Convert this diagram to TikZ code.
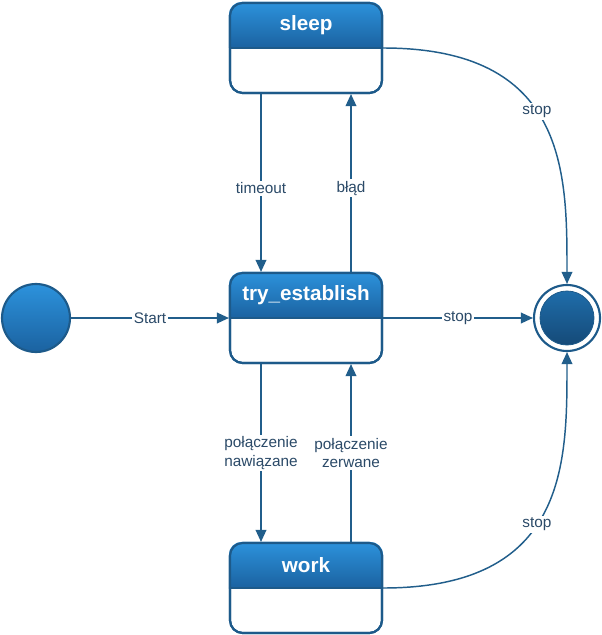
\documentclass[tikz,border=0pt]{standalone}
\usepackage{fontspec}
\setmainfont{Liberation Sans}
\usetikzlibrary{arrows.meta,calc}
\definecolor{hdrtop}{HTML}{2C92DC}
\definecolor{hdrbot}{HTML}{1B62A0}
\definecolor{bord}{HTML}{1D5A8A}
\definecolor{edgec}{HTML}{215E8B}
\definecolor{lbl}{HTML}{2B4A68}
\definecolor{endtop}{HTML}{1F6DAA}
\definecolor{endbot}{HTML}{154A78}
\tikzset{
 statebox/.style={rectangle, rounded corners=9.5pt, minimum width=114pt, minimum height=67.5pt, draw=bord, line width=1.6pt, fill=white, inner sep=0pt},
 titletext/.style={text=white, font=\bfseries\fontsize{15.5}{18}\selectfont},
 trans/.style={draw=edgec, line width=1.1pt, -{Triangle[length=9pt,width=8pt]}},
 lab/.style={fill=white, text=lbl, font=\fontsize{11.5}{14}\selectfont, inner sep=1.5pt, align=center},
}
\newcommand{\stateheader}[1]{%
 \begin{scope}
 \clip[rounded corners=9.5pt] (#1.north west) rectangle (#1.south east);
 \shade[top color=hdrtop, bottom color=hdrbot] (#1.north west) rectangle (#1.east);
 \end{scope}
 \draw[bord, line width=1.6pt, rounded corners=9.5pt] ([shift={(0.8pt,-0.8pt)}]#1.north west) rectangle ([shift={(-0.8pt,0.8pt)}]#1.south east);
 \draw[bord, line width=0.8pt] (#1.west) -- (#1.east);
}
\begin{document}
\begin{tikzpicture}[x=0.75pt,y=-0.75pt]
\useasboundingbox (0,0) rectangle (601,635);
% states
\node[statebox] (sleep) at (306,48) {};
\node[statebox] (try) at (306,318) {};
\node[statebox] (work) at (306,588) {};
\stateheader{sleep}
\stateheader{try}
\stateheader{work}
\node[titletext] (sleepT) at (306,25.5) {sleep};
\node[titletext] (tryT) at (306,295.5) {try\_establish};
\node[titletext] (workT) at (306,565.5) {work};
% start / end
\node[circle, minimum size=51pt, inner sep=0pt, draw=bord, line width=1.6pt, top color=hdrtop, bottom color=hdrbot] (start) at (36,318) {};
\node[circle, minimum size=49.5pt, inner sep=0pt, draw=bord, line width=1.6pt, fill=white] (end) at (567,318) {};
\node[circle, minimum size=40.5pt, inner sep=0pt, draw=bord, line width=0.6pt, top color=endtop, bottom color=endbot] (endin) at (567,318) {};
% transitions
\draw[trans] (start.east) -- node[lab]{Start} (try.west);
\draw[trans] ([xshift=-33.75pt]sleep.south) -- node[lab,pos=0.53]{timeout} ([xshift=-33.75pt]try.north);
\draw[trans] ([xshift=33.75pt]try.north) -- node[lab,pos=0.47]{błąd} ([xshift=33.75pt]sleep.south);
\draw[trans] ([xshift=-33.75pt]try.south) -- node[lab]{połączenie\\nawiązane} ([xshift=-33.75pt]work.north);
\draw[trans] ([xshift=33.75pt]work.north) -- node[lab]{połączenie\\zerwane} ([xshift=33.75pt]try.south);
\draw[trans] (try.east) -- node[lab]{stop} (end.west);
\draw[trans] (sleep.east) .. controls +(185,0) and +(0,-110) .. node[lab,pos=0.45]{stop} (end.north);
\draw[trans] (work.east) .. controls +(185,0) and +(0,110) .. node[lab,pos=0.45]{stop} (end.south);
\end{tikzpicture}
\end{document}
